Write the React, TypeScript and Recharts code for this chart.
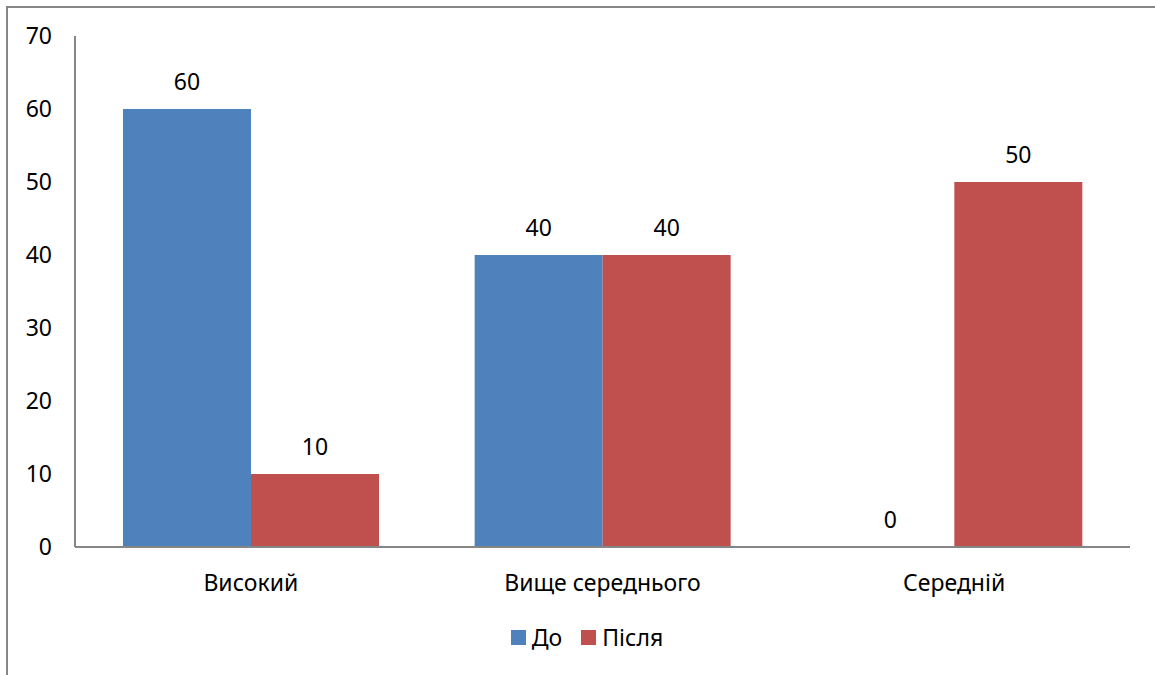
import { BarChart, Bar, XAxis, YAxis, Legend, LabelList } from 'recharts'

const categories = ['Високий', 'Вище середнього', 'Середній']
const beforeValues = [60, 40, 0]
const afterValues = [10, 40, 50]
const yTicks = [0, 10, 20, 30, 40, 50, 60, 70]

const BLUE = '#4F81BD'
const RED = '#C0504D'
const AXIS = '#868686'
const FONT = "'Noto Sans', 'Open Sans', sans-serif"
const FS = 23

const data = categories.map((name, i) => ({
  name,
  before: beforeValues[i],
  after: afterValues[i],
}))

// value text above the bar
const ValueLabel = (props: any) => {
  const { x, y, width, value } = props
  if (value === undefined || value === null) return null
  return (
    <text
      x={Number(x) + Number(width) / 2}
      y={Number(y) - 19}
      textAnchor="middle"
      fill="#000"
      fontSize={FS}
      fontFamily={FONT}
    >
      {String(value)}
    </text>
  )
}

const LegendContent = () => (
  <div
    style={{
      display: 'flex',
      justifyContent: 'center',
      alignItems: 'center',
      gap: 19,
      fontFamily: FONT,
      fontSize: FS,
      color: '#000',
      height: 30,
      paddingLeft: 44,
    }}
  >
    <span style={{ display: 'flex', alignItems: 'center', gap: 6 }}>
      <span style={{ width: 15, height: 15, background: BLUE, display: 'inline-block' }} />
      До
    </span>
    <span style={{ display: 'flex', alignItems: 'center', gap: 6 }}>
      <span style={{ width: 15, height: 15, background: RED, display: 'inline-block' }} />
      Після
    </span>
  </div>
)

export default function App() {
  return (
    <div
      style={{
        position: 'absolute',
        left: 0,
        top: 0,
        width: 1155,
        height: 675,
        background: '#fff',
        fontFamily: FONT,
      }}
    >
      <div
        style={{
          position: 'absolute',
          left: 6,
          top: 6,
          width: 1149,
          height: 669,
          borderLeft: `2px solid ${AXIS}`,
          borderTop: `2px solid ${AXIS}`,
          boxSizing: 'border-box',
        }}
      />
      <BarChart
        width={1155}
        height={675}
        data={data}
        margin={{ top: 36, right: 25, left: 0, bottom: 68 }}
        barCategoryGap={48}
        barGap={0}
      >
        <XAxis
          dataKey="name"
          axisLine={{ stroke: AXIS, strokeWidth: 2 }}
          tickLine={false}
          tickMargin={22}
          tick={{ fill: '#000', fontSize: FS, fontFamily: FONT }}
        />
        <YAxis
          width={75}
          domain={[0, 70]}
          ticks={yTicks}
          interval={0}
          axisLine={{ stroke: AXIS, strokeWidth: 2 }}
          tickLine={false}
          tickMargin={17}
          tick={{ fill: '#000', fontSize: FS, fontFamily: FONT }}
        />
        <Legend verticalAlign="bottom" content={<LegendContent />} wrapperStyle={{ bottom: 23 }} />
        {/* tiny minPointSize keeps the zero bar so its "0" label is drawn */}
        <Bar dataKey="before" name="До" fill={BLUE} minPointSize={0.01} isAnimationActive={false}>
          <LabelList dataKey="before" content={ValueLabel} />
        </Bar>
        <Bar dataKey="after" name="Після" fill={RED} minPointSize={0.01} isAnimationActive={false}>
          <LabelList dataKey="after" content={ValueLabel} />
        </Bar>
      </BarChart>
    </div>
  )
}
